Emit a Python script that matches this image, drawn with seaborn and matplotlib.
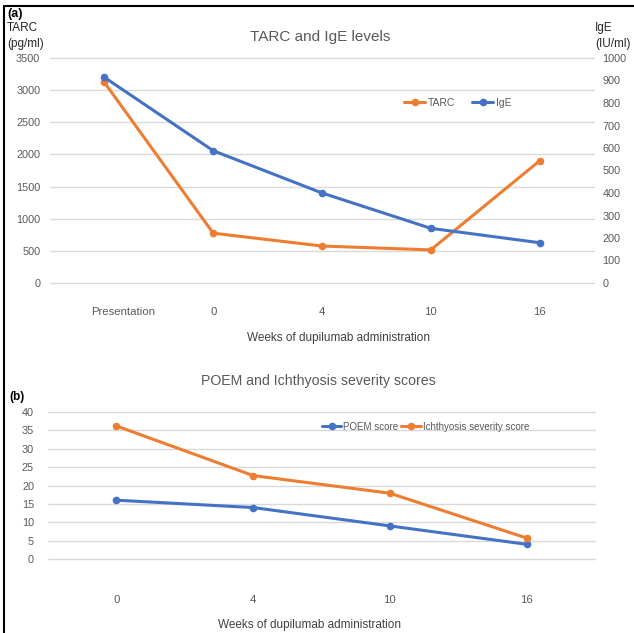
import matplotlib
matplotlib.use("Agg")
import matplotlib.pyplot as plt
import seaborn as sns
import pandas as pd
from matplotlib.lines import Line2D
from matplotlib.transforms import ScaledTranslation

sns.set_theme(style="white")
plt.rcParams['font.family'] = ['Liberation Sans', 'DejaVu Sans']

# Panel (a) data
weeks_a = ["Presentation", "0", "4", "10", "16"]
tarc = [3120, 775, 575, 515, 1900]
ige = [914, 588, 400, 243, 179]

# Panel (b) data
weeks_b = ["0", "4", "10", "16"]
poem = [16, 14, 9, 4]
ichthyosis = [36.2, 22.7, 17.9, 5.7]

ORANGE = "#ED7D31"
BLUE = "#4472C4"
TXT = "#595959"
GRID = "#D9D9D9"

W, H = 634, 633
fig = plt.figure(figsize=(W / 100, H / 100), dpi=100)


def box(l, t, r, b):
    return [l / W, 1 - b / H, (r - l) / W, (b - t) / H]


def style_axis(ax):
    for s in ax.spines.values():
        s.set_visible(False)
    ax.tick_params(length=0, colors=TXT, labelsize=7.8)
    ax.grid(axis="y", color=GRID, lw=1)
    ax.grid(axis="x", visible=False)
    # keep the 0 and top gridlines fully visible
    for gl in ax.get_ygridlines():
        gl.set_clip_on(False)


line_kw = dict(marker="o", markersize=5.5, linewidth=2.2, markeredgewidth=0)

# ---------- panel (a) ----------
df_a = pd.DataFrame({"week": weeks_a, "TARC": tarc, "IgE": ige})
ax1 = fig.add_axes(box(50, 58, 594, 283))
sns.lineplot(data=df_a, x="week", y="TARC", color=ORANGE, sort=False, ax=ax1, **line_kw)
ax1.set_ylim(0, 3500)
ax1.set_yticks(range(0, 3501, 500))
ax1.set_xlim(-0.5, len(weeks_a) - 0.5)
style_axis(ax1)
ax1.tick_params(axis="x", pad=17, labelsize=8.2)
ax1.tick_params(axis="y", pad=7)
ax1.set_ylabel("")
ax1.set_xlabel("Weeks of dupilumab administration", color="#404040", fontsize=8.5)
ax1.xaxis.set_label_coords(0.53, -0.22)
# the "Presentation" label sits a little right of its point in the original
first = ax1.get_xticklabels()[0]
first.set_transform(first.get_transform() + ScaledTranslation(0.19, 0, fig.dpi_scale_trans))

ax2 = ax1.twinx()
sns.lineplot(data=df_a, x="week", y="IgE", color=BLUE, sort=False, ax=ax2, **line_kw)
ax2.set_ylim(0, 1000)
ax2.set_yticks(range(0, 1001, 100))
for s in ax2.spines.values():
    s.set_visible(False)
ax2.tick_params(length=0, colors=TXT, labelsize=7.8, pad=6)
ax2.grid(False)
ax2.set_ylabel("")

handles = [Line2D([], [], color=ORANGE, **line_kw), Line2D([], [], color=BLUE, **line_kw)]
ax2.legend(handles, ["TARC", "IgE"], ncol=2, frameon=False, fontsize=7.5,
           labelcolor=TXT, loc="center", bbox_to_anchor=(0.75, 0.8),
           handlelength=2.0, columnspacing=1.6, handletextpad=0.3)

fig.text(7 / W, 1 - 14 / H, "(a)", fontsize=9, fontweight="bold", color="black", va="center")
fig.text(7 / W, 1 - 36 / H, "TARC\n(pg/ml)", fontsize=8.5, color="#262626", va="center", linespacing=1.45)
fig.text(595 / W, 1 - 36 / H, "IgE\n(IU/ml)", fontsize=8.5, color="#262626", va="center", linespacing=1.45)
fig.text(320 / W, 1 - 37 / H, "TARC and IgE levels", fontsize=11, color=TXT, ha="center", va="center")

# ---------- panel (b) ----------
df_b = pd.DataFrame({"week": weeks_b, "POEM score": poem, "Ichthyosis severity score": ichthyosis})
ax3 = fig.add_axes(box(48, 412, 595, 559))
sns.lineplot(data=df_b, x="week", y="POEM score", color=BLUE, sort=False, ax=ax3, **line_kw)
sns.lineplot(data=df_b, x="week", y="Ichthyosis severity score", color=ORANGE, sort=False, ax=ax3, **line_kw)
ax3.set_ylim(0, 40)
ax3.set_yticks(range(0, 41, 5))
ax3.set_xlim(-0.5, len(weeks_b) - 0.5)
style_axis(ax3)
ax3.tick_params(axis="x", pad=26, labelsize=8.2)
ax3.tick_params(axis="y", pad=10)
ax3.set_ylabel("")
ax3.set_xlabel("Weeks of dupilumab administration", color="#404040", fontsize=8.5)
ax3.xaxis.set_label_coords(0.478, -0.41)
handles_b = [Line2D([], [], color=BLUE, **line_kw), Line2D([], [], color=ORANGE, **line_kw)]
ax3.legend(handles_b, ["POEM score", "Ichthyosis severity score"], ncol=2, frameon=False,
           fontsize=7, labelcolor=TXT, loc="center", bbox_to_anchor=(0.69, 0.9),
           handlelength=2.0, columnspacing=0.3, handletextpad=0.2)

fig.text(9 / W, 1 - 397 / H, "(b)", fontsize=8.5, fontweight="bold", color="black", va="center")
fig.text(318 / W, 1 - 381 / H, "POEM and Ichthyosis severity scores", fontsize=10.2, color=TXT,
         ha="center", va="center")

# outer frame (top and left edges)
fig.add_artist(Line2D([4 / W, 4 / W], [0, 1 - 6 / H], color="black", lw=1.5, transform=fig.transFigure))
fig.add_artist(Line2D([4 / W, 1], [1 - 6 / H, 1 - 6 / H], color="black", lw=1.5, transform=fig.transFigure))

fig.savefig("out.png", dpi=100)
